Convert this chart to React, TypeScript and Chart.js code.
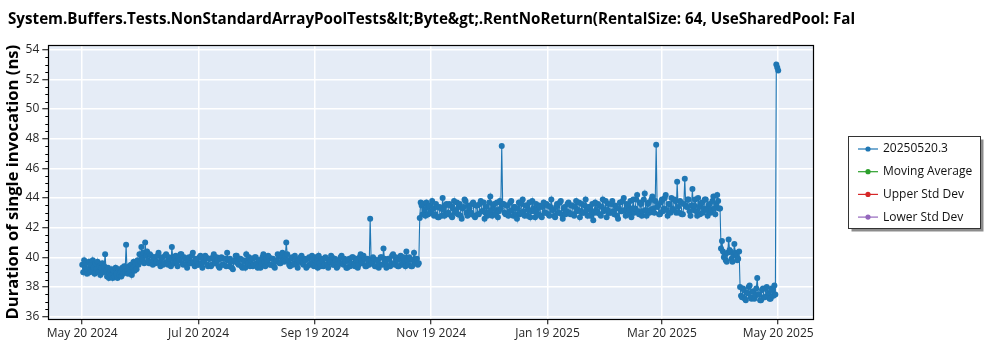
import React, { useEffect, useRef } from "react";
import { Chart, registerables } from "chart.js";

Chart.register(...registerables);

const FONT = "'Open Sans', 'Noto Sans', sans-serif";

const chartTitle =
  "System.Buffers.Tests.NonStandardArrayPoolTests&lt;Byte&gt;.RentNoReturn(RentalSize: 64, UseSharedPool: Fal";
const yAxisTitle = "Duration of single invocation (ns)";

// x values are day offsets from May 20 2024
const xTickDays = [0, 61, 122, 183, 244, 304, 365];
const xTickLabels = [
  "May 20 2024",
  "Jul 20 2024",
  "Sep 19 2024",
  "Nov 19 2024",
  "Jan 19 2025",
  "Mar 20 2025",
  "May 20 2025",
];
const yMajorTicks = [36, 38, 40, 42, 44, 46, 48, 50, 52, 54];
const yMinorStep = 0.5;

const seriesLabels = ["20250520.3", "Moving Average", "Upper Std Dev", "Lower Std Dev"];
const seriesColors = ["#1f77b4", "#2ca02c", "#d62728", "#9467bd"];

// two runs per day; each segment lists its first day
const runSpacingDays = 0.5;

const segAStart = 0;
const runSegA = [
  39.5, 39.0, 39.8, 39.3, 39.6, 38.9, 39.2, 39.7, 39.0, 39.5,
  39.1, 39.8, 39.3, 38.9, 39.6, 39.2, 39.7, 39.0, 39.4, 38.8,
  39.3, 39.6, 39.0, 39.4, 40.2, 39.1, 38.7, 39.3, 38.6, 39.0,
  38.8, 39.2, 38.6, 39.1, 38.7, 39.3, 38.9, 38.6, 39.2, 38.8,
  39.0, 38.7, 39.3, 38.9, 39.4, 39.0, 40.85, 39.1, 38.9, 39.4,
  39.0, 39.5, 38.8, 39.3, 39.7, 39.1, 39.6, 39.2,
];

const segBStart = 29;
const runSegB = [
  39.8, 39.5, 40.2, 39.7, 40.7, 39.9, 40.3, 39.6, 41.0, 40.1,
  40.4, 39.8, 39.6, 40.2, 40.1, 39.7, 39.5, 40.0, 40.0, 39.6,
  39.7, 40.1, 40.3, 39.6, 39.4, 39.9, 40.0, 39.5, 39.6, 40.1,
  40.2, 39.7, 39.5, 40.0, 39.9, 39.4, 40.7, 39.9, 39.6, 40.0,
  40.1, 39.7, 39.4, 39.9, 39.8, 40.2, 40.2, 39.6, 39.5, 40.0,
  39.9, 39.5, 39.3, 39.8, 40.0, 39.6, 39.6, 40.1, 40.3, 39.7,
  39.4, 39.9, 39.8, 39.5, 39.5, 40.0, 40.1, 39.6, 39.3, 39.8,
  39.7, 40.1, 40.0, 39.5, 39.4, 39.9, 39.9, 39.4, 39.5, 40.0,
  40.2, 39.7, 39.6, 40.0, 39.8, 39.4, 39.3, 39.9, 40.0, 39.5,
  39.5, 39.9, 39.9, 39.4, 40.3, 39.8, 39.4, 39.9, 39.7, 39.3,
  39.2, 39.7, 39.8, 40.1, 40.1, 39.6, 39.5, 39.9, 39.9, 39.4,
  39.3, 39.8, 39.7, 39.3, 40.2, 39.8, 39.6, 40.0, 39.4, 39.8,
  39.9, 39.4, 39.5, 40.0, 40.0, 39.6, 39.3, 39.8, 39.8, 39.3,
  39.6, 40.0, 40.2, 39.7, 39.4, 39.9, 39.7, 40.1, 40.0, 39.5,
  39.5, 39.9, 39.9, 39.4, 39.3, 39.7, 39.8, 40.2, 40.1, 39.6,
  39.6, 40.0, 40.3, 39.8, 39.7, 40.1, 41.0, 40.2, 39.8, 39.5,
  39.4, 39.9, 40.0, 39.5, 39.6, 40.1, 39.9, 39.5, 39.3, 39.8,
  39.7, 40.0, 40.1, 39.6, 39.5, 39.9, 39.8, 39.3, 39.4, 39.9,
  40.0, 39.5, 39.6, 40.1, 39.9, 39.4, 39.5, 40.0, 39.7, 39.3,
  40.1, 39.6, 39.4, 39.9, 39.8, 39.4, 39.5, 40.0, 39.9, 39.5,
  39.3, 39.8, 39.7, 40.1, 40.0, 39.5, 39.5, 39.9, 39.8, 39.3,
  39.4, 39.8, 39.6, 40.0, 40.1, 39.6, 39.5, 39.9, 39.7, 39.3,
  39.3, 39.8, 39.9, 39.4, 39.6, 40.0, 40.0, 39.5, 39.4, 39.9,
  39.8, 39.3, 39.5, 40.0, 40.2, 39.7, 39.6, 40.1, 39.9, 39.4,
  39.4, 39.9, 39.7, 39.5, 42.6, 39.8, 39.6, 40.0, 39.9, 39.4,
  39.4, 39.8, 39.8, 39.3, 39.5, 40.0, 40.0, 39.5, 40.6, 39.9,
  39.7, 39.3, 39.4, 39.9, 39.9, 39.4, 39.6, 40.1, 40.2, 39.6,
  39.5, 40.0, 39.8, 39.4, 39.4, 39.9, 40.1, 39.5, 39.6, 40.0,
  39.8, 39.4, 40.4, 39.8, 39.5, 40.0, 39.9, 39.4, 39.4, 39.8,
  40.3, 39.7, 39.6, 39.9, 39.5, 39.6,
];

const segCStart = 177;
const runSegC = [
  42.65, 43.7, 43.5, 42.9, 43.6, 43.2, 42.8, 43.7, 43.4, 42.9,
  43.5, 43.0, 43.1, 43.8, 43.3, 42.8, 42.9, 43.6, 43.4, 42.7,
  42.7, 43.4, 43.3, 42.8, 44.0, 43.2, 42.8, 43.5, 43.6, 42.9,
  43.0, 43.6, 43.5, 42.8, 42.7, 43.3, 43.8, 43.0, 43.1, 43.7,
  42.9, 43.4, 43.6, 42.8, 42.6, 43.3, 43.4, 43.9, 43.8, 43.0,
  42.8, 43.5, 43.3, 42.9, 43.0, 43.6, 43.7, 42.8, 42.7, 43.5,
  43.5, 42.9, 42.9, 43.6, 43.8, 43.1, 43.1, 43.7, 42.6, 43.0,
  43.4, 42.8, 43.0, 43.7, 44.1, 43.2, 42.8, 43.5, 43.6, 42.9,
  43.2, 43.7, 42.7, 43.1, 43.8, 43.3, 47.5, 43.6, 43.6, 43.0,
  42.9, 43.5, 43.5, 42.8, 43.1, 43.7, 43.8, 43.2, 42.8, 43.4,
  43.4, 42.9, 42.6, 43.3, 43.7, 42.9, 43.0, 43.6, 43.9, 43.1,
  42.8, 43.5, 43.5, 42.8, 43.2, 43.7, 42.7, 43.1, 43.8, 43.3,
  43.1, 42.7, 43.6, 43.2, 42.9, 43.5, 43.4, 42.8, 42.7, 43.4,
  43.7, 43.0, 43.0, 43.6, 43.5, 42.9, 42.8, 43.4, 43.9, 43.2,
  43.2, 42.8, 42.7, 43.4, 43.6, 43.0, 43.0, 43.7, 43.8, 42.9,
  42.6, 43.3, 43.4, 42.9, 43.1, 43.6, 43.7, 43.0, 42.9, 43.5,
  43.5, 42.9, 42.8, 43.4, 43.8, 43.1, 43.2, 43.7, 42.7, 43.1,
  43.6, 43.0, 43.0, 43.5, 43.9, 43.2, 42.8, 43.4, 43.4, 42.8,
  43.1, 43.6, 42.5, 43.0, 43.7, 43.2, 43.0, 43.6, 43.5, 42.9,
  42.8, 43.4, 43.9, 43.1, 43.2, 43.8, 42.7, 43.2, 43.6, 43.0,
  43.0, 43.6, 43.8, 43.1, 42.9, 43.5, 43.4, 42.8, 42.6, 43.3,
  43.7, 43.1, 43.1, 43.8, 44.0, 43.2, 42.8, 43.6, 43.5, 42.9,
  43.2, 43.8, 42.7, 43.3, 43.9, 43.0, 43.3, 43.9, 44.2, 43.1,
  42.9, 43.7, 43.6, 42.8, 43.1, 43.9, 44.3, 43.2, 42.8, 43.6,
  43.7, 43.0, 43.2, 43.9, 44.1, 43.3, 43.0, 43.8, 47.6, 43.4,
  43.5, 42.9, 42.9, 43.7, 43.9, 43.1, 43.3, 44.0, 44.2, 43.2,
  42.8, 43.6, 43.6, 43.0, 44.0, 43.3, 43.2, 43.9, 43.8, 43.0,
  45.1, 43.4, 43.0, 43.8, 43.7, 42.9, 42.9, 43.6, 45.3, 43.5,
  43.4, 43.9, 43.9, 43.1, 42.8, 43.5, 44.6, 43.2, 43.5, 43.9,
  43.1, 42.8, 44.0, 43.4, 42.9, 43.6, 43.7, 43.0, 43.3, 43.9,
  43.9, 43.2, 42.8, 43.5, 43.6, 43.0, 43.2, 43.8, 44.1, 43.3,
  42.9, 43.6, 44.2, 43.8, 43.3, 43.3,
];

const segDStart = 335;
const runSegD = [
  40.6, 41.1, 40.4, 40.0, 40.2, 39.8, 39.7, 40.3, 41.2, 40.5,
  40.4, 39.9, 39.7, 40.2, 40.9, 40.3, 40.1, 39.8, 39.9, 40.4,
];

const segEStart = 345;
const runSegE = [
  38.0, 37.4, 37.3, 37.9, 37.8, 37.2, 37.1, 37.6, 37.6, 38.0,
  38.1, 37.3, 37.2, 37.7, 37.7, 37.2, 37.4, 37.9, 38.6, 37.5,
  37.5, 37.1, 37.1, 37.8, 37.9, 37.3, 37.3, 37.9, 38.0, 37.4,
  37.6, 37.2, 37.2, 37.9, 37.8, 37.4, 38.1, 37.5,
];

const segFStart = 364;
const runSegF = [53.0, 52.8, 52.6];

const runSegments: [number, number[]][] = [
  [segAStart, runSegA],
  [segBStart, runSegB],
  [segCStart, runSegC],
  [segDStart, runSegD],
  [segEStart, runSegE],
  [segFStart, runSegF],
];

const xMin = -17.8;
const xMax = 383.4;
const yMin = 35.82;
const yMax = 54.32;

const framePlugin = {
  id: "framePlugin",
  beforeDraw(chart: any) {
    const { ctx, chartArea: a } = chart;
    ctx.save();
    ctx.fillStyle = "#e5ecf6";
    ctx.fillRect(a.left, a.top, a.right - a.left, a.bottom - a.top);
    ctx.restore();
  },
  afterDraw(chart: any) {
    const { ctx, chartArea: a, scales } = chart;
    ctx.save();
    // title
    ctx.fillStyle = "#000";
    ctx.font = `bold 15.2px ${FONT}`;
    ctx.textBaseline = "middle";
    ctx.textAlign = "left";
    ctx.fillText(chartTitle, 8, 19.5);

    // minor y ticks
    const ys = scales.y;
    ctx.strokeStyle = "#000";
    ctx.lineWidth = 1;
    ctx.beginPath();
    for (let v = yMajorTicks[0]; v <= yMajorTicks[yMajorTicks.length - 1]; v += yMinorStep) {
      if (yMajorTicks.includes(v)) continue;
      const py = Math.round(ys.getPixelForValue(v)) + 0.5;
      ctx.moveTo(a.left - 3, py);
      ctx.lineTo(a.left, py);
    }
    ctx.stroke();

    // frame
    ctx.strokeStyle = "#000";
    ctx.lineWidth = 1.2;
    ctx.strokeRect(
      Math.round(a.left) + 0.5,
      Math.round(a.top) + 0.5,
      Math.round(a.right - a.left),
      Math.round(a.bottom - a.top)
    );

    // legend
    const bx = 848.5, by = 136.5, bw = 132, bh = 92;
    ctx.fillStyle = "rgba(0,0,0,0.45)";
    ctx.fillRect(bx + 3, by + 3, bw, bh);
    ctx.fillStyle = "#fff";
    ctx.fillRect(bx, by, bw, bh);
    ctx.strokeStyle = "#333";
    ctx.lineWidth = 1;
    ctx.strokeRect(bx, by, bw, bh);
    ctx.font = `12px ${FONT}`;
    ctx.textBaseline = "middle";
    chart.data.datasets.forEach((ds: any, i: number) => {
      const ry = 149 + i * 22.7;
      ctx.strokeStyle = ds.borderColor;
      ctx.lineWidth = 1.2;
      ctx.beginPath();
      ctx.moveTo(858, ry);
      ctx.lineTo(878, ry);
      ctx.stroke();
      ctx.fillStyle = ds.borderColor;
      ctx.beginPath();
      ctx.arc(868, ry, 2.6, 0, Math.PI * 2);
      ctx.fill();
      ctx.fillStyle = "#111";
      ctx.fillText(ds.label, 883, ry);
    });
    ctx.restore();
  },
};

export default function App() {
  const ref = useRef<HTMLCanvasElement>(null);
  useEffect(() => {
    const canvas = ref.current;
    if (!canvas) return;
    const runPoints: { x: number; y: number }[] = [];
    runSegments.forEach(([start, values]) => {
      values.forEach((v, i) => runPoints.push({ x: start + i * runSpacingDays, y: v }));
    });
    const datasets = seriesLabels.map((label, i) => ({
      label,
      data: i === 0 ? runPoints : [],
      borderColor: seriesColors[i],
      backgroundColor: seriesColors[i],
      borderWidth: 1.1,
      pointRadius: 3,
      pointHoverRadius: 3,
      pointBorderWidth: 0,
      pointBackgroundColor: seriesColors[i],
      tension: 0,
    }));
    const chart = new Chart(canvas, {
      type: "line",
      data: { datasets },
      options: {
        responsive: false,
        animation: false,
        events: [],
        devicePixelRatio: 1,
        layout: { padding: { left: 0, top: 45, right: 186.7, bottom: 0 } },
        plugins: {
          legend: { display: false },
          title: { display: false },
          tooltip: { enabled: false },
        },
        scales: {
          x: {
            type: "linear",
            min: xMin,
            max: xMax,
            afterBuildTicks: (s: any) => {
              s.ticks = xTickDays.map((v) => ({ value: v }));
            },
            afterFit: (s: any) => {
              s.height = 30.7;
            },
            ticks: {
              autoSkip: false,
              maxRotation: 0,
              padding: 2,
              color: "#262626",
              font: { family: FONT, size: 12 },
              callback: (_v: any, i: number) => xTickLabels[i],
            },
            grid: { color: "#ffffff", lineWidth: 1.5, tickColor: "#000", tickWidth: 1, tickLength: 5 },
            border: { display: false },
          },
          y: {
            type: "linear",
            min: yMin,
            max: yMax,
            afterBuildTicks: (s: any) => {
              s.ticks = yMajorTicks.map((v) => ({ value: v }));
            },
            afterFit: (s: any) => {
              s.width = 48.3;
            },
            ticks: {
              padding: 3,
              color: "#262626",
              font: { family: FONT, size: 12 },
              callback: (v: any) => String(v),
            },
            grid: { color: "#ffffff", lineWidth: 1.5, tickColor: "#000", tickWidth: 1, tickLength: 6 },
            border: { display: false },
            title: {
              display: true,
              text: yAxisTitle,
              color: "#000",
              font: { family: FONT, size: 16.6, weight: "bold" },
              padding: { top: 3, bottom: 0 },
            },
          },
        },
      },
      plugins: [framePlugin],
    } as any);
    return () => chart.destroy();
  }, []);
  return (
    <div style={{ position: "absolute", left: 0, top: 0, width: 1000, height: 350, background: "#fff" }}>
      <canvas ref={ref} width={1000} height={350} style={{ display: "block", width: 1000, height: 350 }} />
    </div>
  );
}
